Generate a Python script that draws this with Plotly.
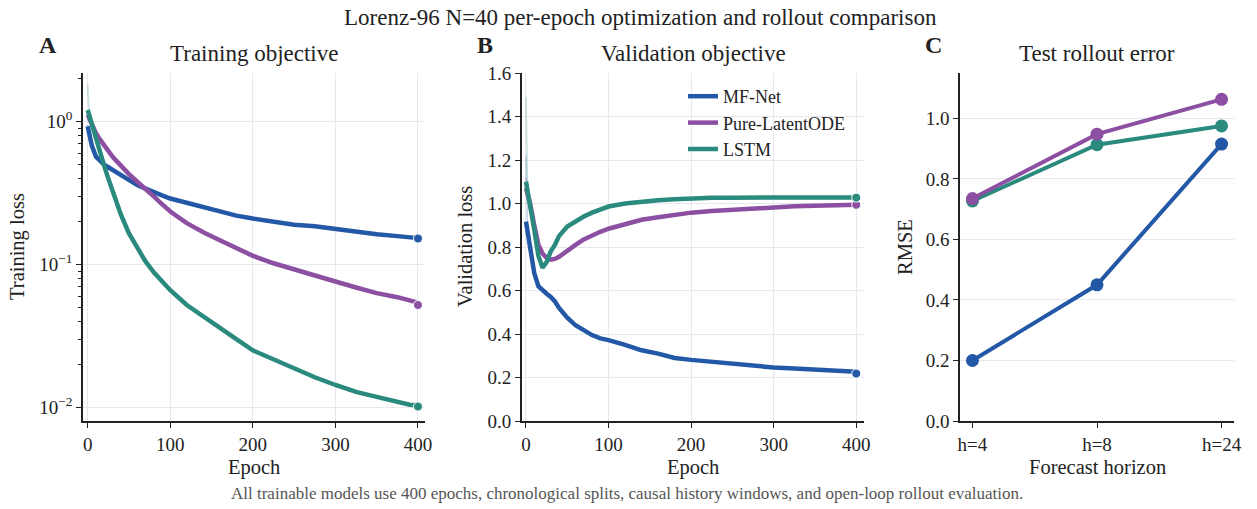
import plotly.graph_objects as go

# ---------------- data ----------------
series_names = ["MF-Net", "Pure-LatentODE", "LSTM"]
colors = ["#2358a6", "#8c4fa2", "#2a8a7d"]

epochs_a = [0, 5, 10, 15, 20, 25, 30, 35, 40, 50, 60, 70, 80, 90, 100, 120, 140, 160,
            180, 200, 225, 250, 275, 300, 325, 350, 375, 390, 400]
train_mfnet = [0.93, 0.68, 0.57, 0.53, 0.50, 0.48, 0.46, 0.44, 0.42, 0.39, 0.36, 0.34, 0.32,
               0.305, 0.29, 0.27, 0.25, 0.235, 0.22, 0.21, 0.20, 0.19, 0.185, 0.177, 0.17,
               0.163, 0.158, 0.155, 0.153]
train_latent = [1.12, 0.95, 0.83, 0.75, 0.68, 0.62, 0.57, 0.53, 0.49, 0.43, 0.38, 0.34, 0.30,
                0.265, 0.235, 0.195, 0.168, 0.148, 0.13, 0.115, 0.102, 0.092, 0.083, 0.076,
                0.069, 0.063, 0.059, 0.056, 0.054]
train_lstm = [1.21, 0.95, 0.75, 0.60, 0.49, 0.40, 0.33, 0.27, 0.225, 0.165, 0.13, 0.105, 0.088,
              0.076, 0.066, 0.052, 0.043, 0.036, 0.030, 0.025, 0.0215, 0.0187, 0.0162, 0.0143,
              0.0128, 0.0118, 0.0108, 0.0104, 0.0103]

epochs_b = [0, 5, 10, 15, 20, 25, 30, 35, 40, 50, 60, 70, 80, 90, 100, 120, 140, 160,
            180, 200, 225, 250, 275, 300, 325, 350, 375, 390, 400]
val_mfnet = [0.917, 0.79, 0.68, 0.62, 0.60, 0.585, 0.57, 0.55, 0.52, 0.475, 0.44, 0.415, 0.395,
             0.38, 0.372, 0.35, 0.325, 0.31, 0.29, 0.281, 0.272, 0.262, 0.255, 0.246, 0.241,
             0.236, 0.230, 0.228, 0.226]
val_latent = [1.07, 1.0, 0.90, 0.81, 0.77, 0.75, 0.742, 0.745, 0.755, 0.785, 0.81, 0.835, 0.855,
              0.87, 0.884, 0.905, 0.925, 0.937, 0.948, 0.958, 0.965, 0.971, 0.977, 0.984,
              0.987, 0.990, 0.992, 0.993, 0.994]
val_lstm = [1.10, 1.0, 0.88, 0.76, 0.705, 0.73, 0.78, 0.81, 0.85, 0.894, 0.92, 0.94, 0.958,
            0.973, 0.986, 1.0, 1.01, 1.015, 1.02, 1.024, 1.026, 1.027, 1.028, 1.028, 1.028,
            1.028, 1.028, 1.028, 1.028]

# raw (unsmoothed) first epochs, drawn faintly
raw_epochs = [0, 1, 2, 4]
raw_train = {"MF-Net": [0.95, 0.80, 0.72, 0.68],
             "Pure-LatentODE": [1.15, 1.05, 1.0, 0.96],
             "LSTM": [1.82, 1.3, 1.1, 1.0]}
raw_val = {"MF-Net": [1.22, 0.95, 0.85, 0.80],
           "Pure-LatentODE": [1.12, 1.06, 1.03, 1.0],
           "LSTM": [1.49, 1.12, 1.06, 1.01]}

final_epoch = 400
final_train = [0.152, 0.052, 0.0101]
final_val = [0.218, 0.994, 1.027]

horizons = ["h=4", "h=8", "h=24"]
rmse = {"MF-Net": [0.20, 0.45, 0.915],
        "Pure-LatentODE": [0.735, 0.948, 1.063],
        "LSTM": [0.727, 0.913, 0.975]}

log_major_ticks = [1, 0.1, 0.01]
log_major_text = ["10<sup>0</sup>", "10<sup>−1</sup>", "10<sup>−2</sup>"]
log_minor_ticks = [0.02, 0.03, 0.04, 0.05, 0.06, 0.07, 0.08, 0.09,
                   0.2, 0.3, 0.4, 0.5, 0.6, 0.7, 0.8, 0.9, 2]

train_curves = [train_mfnet, train_latent, train_lstm]
val_curves = [val_mfnet, val_latent, val_lstm]

# ---------------- figure ----------------
W, H = 1257, 509
FONT = "Liberation Serif"
INK = "#222222"

def px_x(p):
    return p / W

def px_y(p):
    return 1 - p / H

fig = go.Figure()

for i, name in enumerate(series_names):
    c = colors[i]
    # panel A
    fig.add_trace(go.Scatter(x=raw_epochs, y=raw_train[name], mode="lines",
                             line=dict(color=c, width=1.5), opacity=0.25,
                             showlegend=False, hoverinfo="skip", xaxis="x", yaxis="y"))
    fig.add_trace(go.Scatter(x=epochs_a, y=train_curves[i], mode="lines",
                             line=dict(color=c, width=4.5), showlegend=False,
                             xaxis="x", yaxis="y"))
    fig.add_trace(go.Scatter(x=[final_epoch], y=[final_train[i]], mode="markers",
                             marker=dict(color=c, size=9, line=dict(color="white", width=1)),
                             showlegend=False, xaxis="x", yaxis="y"))
    # panel B
    fig.add_trace(go.Scatter(x=raw_epochs, y=raw_val[name], mode="lines",
                             line=dict(color=c, width=1.5), opacity=0.25,
                             showlegend=False, hoverinfo="skip", xaxis="x2", yaxis="y2"))
    fig.add_trace(go.Scatter(x=epochs_b, y=val_curves[i], mode="lines", name=name,
                             line=dict(color=c, width=4.5), showlegend=True,
                             xaxis="x2", yaxis="y2"))
    fig.add_trace(go.Scatter(x=[final_epoch], y=[final_val[i]], mode="markers",
                             marker=dict(color=c, size=9, line=dict(color="white", width=1)),
                             showlegend=False, xaxis="x2", yaxis="y2"))

# panel C (draw order: MF-Net, LSTM, Pure-LatentODE on top)
for i in [0, 2, 1]:
    name = series_names[i]
    fig.add_trace(go.Scatter(x=horizons, y=rmse[name], mode="lines+markers",
                             line=dict(color=colors[i], width=4),
                             marker=dict(color=colors[i], size=13),
                             showlegend=False, xaxis="x3", yaxis="y3"))

ydom = [px_y(421), px_y(73)]
axis_common = dict(showline=True, linecolor=INK, linewidth=1.5, automargin=False,
                   ticks="outside", ticklen=5, tickwidth=1.2, tickcolor=INK,
                   tickfont=dict(family=FONT, size=19, color=INK),
                   gridcolor="#e6e8ee", gridwidth=1, zeroline=False, mirror=False)

fig.update_layout(
    template="none",
    width=W, height=H, autosize=False,
    margin=dict(l=0, r=0, t=0, b=0, pad=0, autoexpand=False),
    paper_bgcolor="white", plot_bgcolor="white",
    font=dict(family=FONT, color=INK),
    xaxis=dict(domain=[px_x(83), px_x(425)], range=[-5.7, 408.5],
               tickvals=[0, 100, 200, 300, 400], anchor="y", showgrid=True, **axis_common),
    yaxis=dict(domain=ydom, type="log", range=[-2.097, 0.342], anchor="x",
               tickvals=log_major_ticks, ticktext=log_major_text, showgrid=True,
               minor=dict(tickvals=log_minor_ticks, ticks="outside", ticklen=3,
                          tickwidth=1, tickcolor=INK, showgrid=False),
               **axis_common),
    xaxis2=dict(domain=[px_x(521.7), px_x(864)], range=[-5.2, 409.4],
                tickvals=[0, 100, 200, 300, 400], anchor="y2", showgrid=True, **axis_common),
    yaxis2=dict(domain=ydom, range=[0, 1.6], dtick=0.2, tickformat=".1f", anchor="x2",
                showgrid=True, **axis_common),
    xaxis3=dict(domain=[px_x(960), px_x(1234)], range=[-0.1, 2.1], type="category",
                anchor="y3", showgrid=False, **axis_common),
    yaxis3=dict(domain=ydom, range=[0, 1.15], dtick=0.2, tickformat=".1f", anchor="x3",
                showgrid=True, **axis_common),
    legend=dict(x=px_x(683), y=px_y(78), xanchor="left", yanchor="top",
                bgcolor="rgba(255,255,255,0)", borderwidth=0,
                font=dict(family=FONT, size=18, color=INK),
                tracegroupgap=0),
)

ann = []
def add_text(text, x, y, size, bold=False, color=INK, angle=0):
    ann.append(dict(text=f"<b>{text}</b>" if bold else text, x=px_x(x), y=px_y(y),
                    xref="paper", yref="paper", showarrow=False, xanchor="center",
                    yanchor="middle", textangle=angle,
                    font=dict(family=FONT, size=size, color=color)))

add_text("Lorenz-96 N=40 per-epoch optimization and rollout comparison", 640, 17, 23)
add_text("Training objective", 254, 53, 23)
add_text("Validation objective", 693, 53, 23)
add_text("Test rollout error", 1097, 53, 23)
add_text("A", 48, 45, 24, bold=True)
add_text("B", 485, 45, 24, bold=True)
add_text("C", 933, 45, 24, bold=True)
add_text("Training loss", 17, 247, 20.5, angle=-90)
add_text("Validation loss", 465, 247, 20.5, angle=-90)
add_text("RMSE", 905, 247, 20.5, angle=-90)
add_text("Epoch", 254, 467, 20.5)
add_text("Epoch", 693, 467, 20.5)
add_text("Forecast horizon", 1097, 467, 20.5)
add_text("All trainable models use 400 epochs, chronological splits, causal history windows, "
         "and open-loop rollout evaluation.", 627, 493, 17, color="#555555")
fig.update_layout(annotations=ann)

fig.write_html("out.html",
               config={"displayModeBar": False},
               post_script="document.body.style.margin='0px';"
                           "document.body.style.overflow='hidden';")
